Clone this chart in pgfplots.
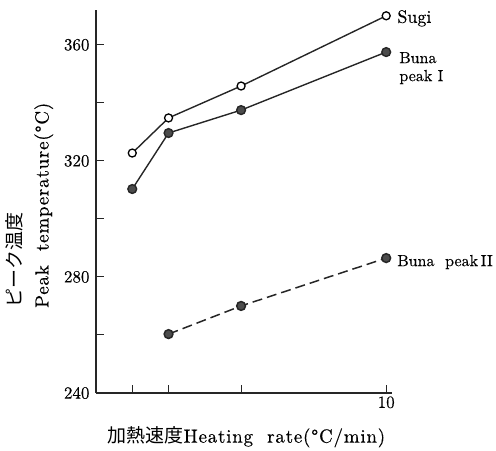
\documentclass[border=0pt]{standalone}
\usepackage{fontspec}
\setmainfont{lmroman10-regular.otf}[FakeBold=0.4]
\usepackage{pgfplots}
\pgfplotsset{compat=1.18}
\newfontfamily\cjk{Noto Sans CJK JP}

% peak temperature vs heating rate
\pgfplotstableread{
rate  T
1.25  322.7
2.5   334.8
5     345.8
10    370.0
}\sugi
\pgfplotstableread{
rate  T
1.25  310.3
2.5   329.6
5     337.5
10    357.5
}\bunaI
\pgfplotstableread{
rate  T
2.5   260.3
5     270.0
10    286.5
}\bunaII

\begin{document}
\begin{tikzpicture}
\begin{axis}[
  at={(0pt,0pt)}, anchor=south west,
  scale only axis, width=296pt, height=383pt,
  xmin=0, xmax=10.2, ymin=240, ymax=372,
  axis x line*=bottom, axis y line*=left,
  axis line style={line width=1.3pt, -, black!85},
  tick align=inside, major tick length=8pt,
  tick style={line width=1pt, black!85},
  xtick={1.25,2.5,5,10}, xticklabels={,,,10},
  ytick={240,260,...,360}, yticklabels={240,,280,,320,,360},
  /pgf/number format/assume math mode=true,
  ticklabel style={font=\fontsize{17}{19}\selectfont},
  yticklabel style={xshift=-3pt},
  clip=false,
  xlabel={{\cjk 加熱速度}{\addfontfeatures{LetterSpace=4}Heating\ \ rate(°C/min)}},
  xlabel style={font=\fontsize{19}{21}\selectfont, at={(axis description cs:0.508,-0.115)}, anchor=center},
  ylabel={{\cjk ピーク温度}\\{\addfontfeatures{LetterSpace=4}Peak\ \ temperature(°C)}},
  ylabel style={font=\fontsize{19}{27}\selectfont, align=left, at={(axis description cs:-0.225,0.49)}, anchor=center},
]
\addplot[black!85, line width=1.4pt, mark=*, mark size=4pt,
  mark options={fill=white, draw=black, line width=1.3pt}] table[x=rate, y=T] {\sugi};
\addplot[black!85, line width=1.4pt, mark=*, mark size=4.4pt,
  mark options={fill=black!70, draw=black!85}] table[x=rate, y=T] {\bunaI};
\addplot[black!85, line width=1.5pt, dash pattern=on 10pt off 5pt, mark=*, mark size=4.4pt,
  mark options={solid, fill=black!70, draw=black!85}] table[x=rate, y=T] {\bunaII};

\node[anchor=base west, inner sep=0pt, xshift=11pt, yshift=-7pt, font=\fontsize{18}{20}\selectfont] at (axis cs:10,370) {Sugi};
\node[anchor=base west, inner sep=0pt, xshift=13pt, yshift=-11pt, font=\fontsize{16}{18}\selectfont] at (axis cs:10,357.5) {Buna};
\node[anchor=base west, inner sep=0pt, xshift=13pt, yshift=-29pt, font=\fontsize{16}{18}\selectfont] at (axis cs:10,357.5) {peak I};
\node[anchor=base west, inner sep=0pt, xshift=11pt, yshift=-8pt, font=\fontsize{16}{18}\selectfont] at (axis cs:10,286.5) {Buna\ \ peak\,II};
\end{axis}
\path[use as bounding box] (-96pt,-54pt) rectangle (400pt,393pt);
\end{tikzpicture}
\end{document}
